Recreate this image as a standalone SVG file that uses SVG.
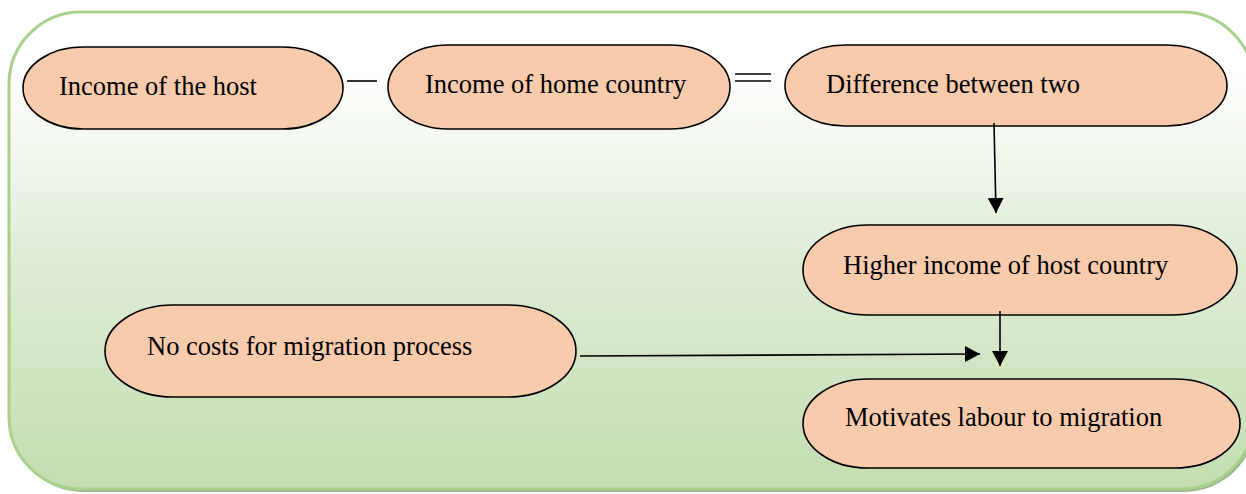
<svg xmlns="http://www.w3.org/2000/svg" width="1246" height="494" viewBox="0 0 1246 494">
<defs>
<linearGradient id="bg" x1="0" y1="0" x2="0" y2="1">
<stop offset="0" stop-color="#ffffff"/>
<stop offset="0.12" stop-color="#ffffff"/>
<stop offset="0.55" stop-color="#dcebd2"/>
<stop offset="1" stop-color="#c3deb0"/>
</linearGradient>
<marker id="arr" markerWidth="16" markerHeight="16" refX="15" refY="8" orient="auto" markerUnits="userSpaceOnUse">
<path d="M0,0 L15,8 L0,16 Z" fill="#000"/>
</marker>
<style>
.node{fill:#f8cbad;stroke:#000;stroke-width:1.6}
.lbl{font-family:'Liberation Serif','Times New Roman',serif;font-size:26.5px;fill:#000}
.con{stroke:#000;stroke-width:1.6;fill:none}
</style>
</defs>
<g id="background">
<rect x="11" y="15" width="1245" height="477" rx="72" ry="72" fill="#9db48e"/>
<rect x="9" y="12" width="1245" height="477" rx="72" ry="72" fill="url(#bg)" stroke="#a9d18e" stroke-width="3"/>
</g>
<g id="n1">
<rect class="node" x="23" y="47" width="320" height="82" rx="60" ry="41"/>
<text class="lbl" x="59" y="95">Income of the host</text>
</g>
<g id="n2">
<rect class="node" x="388" y="45" width="342" height="84" rx="60" ry="42"/>
<text class="lbl" x="425" y="93">Income of home country</text>
</g>
<g id="n3">
<rect class="node" x="785" y="45" width="442" height="81" rx="60" ry="40.5"/>
<text class="lbl" x="826" y="93">Difference between two</text>
</g>
<g id="n4">
<rect class="node" x="803" y="225" width="434" height="90" rx="65" ry="45"/>
<text class="lbl" x="843" y="274">Higher income of host country</text>
</g>
<g id="n5">
<rect class="node" x="105" y="305" width="471" height="92" rx="68" ry="46"/>
<text class="lbl" x="147" y="355">No costs for migration process</text>
</g>
<g id="n6">
<rect class="node" x="803" y="379" width="437" height="89" rx="65" ry="44.5"/>
<text class="lbl" x="845" y="426">Motivates labour to migration</text>
</g>
<g id="connectors">
<line class="con" x1="347" y1="81" x2="377" y2="81"/>
<line class="con" x1="735" y1="74" x2="771" y2="74"/>
<line class="con" x1="735" y1="81" x2="771" y2="81"/>
<line class="con" x1="994" y1="123" x2="996" y2="213" marker-end="url(#arr)"/>
<line class="con" x1="1000" y1="311" x2="1000" y2="366" marker-end="url(#arr)"/>
<line class="con" x1="580" y1="356" x2="980" y2="354" marker-end="url(#arr)"/>
</g>
</svg>
